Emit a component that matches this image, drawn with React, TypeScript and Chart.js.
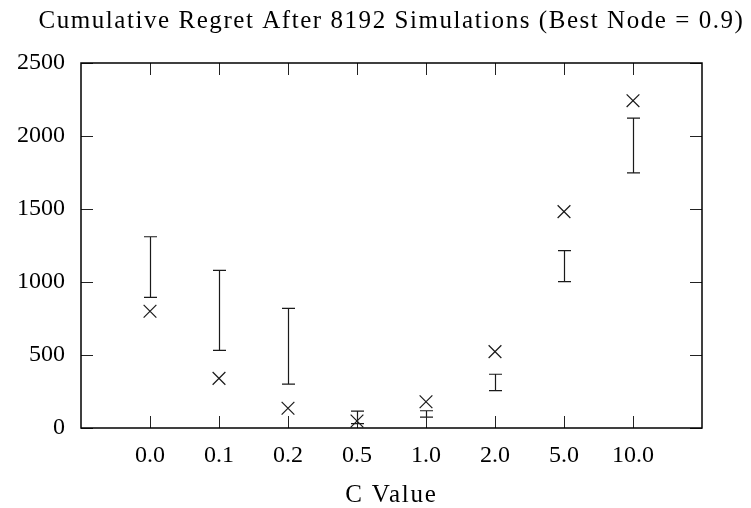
import React, { useEffect, useRef } from "react";
import { Chart, registerables } from "chart.js";

Chart.register(...registerables);

const categories = ["0.0", "0.1", "0.2", "0.5", "1.0", "2.0", "5.0", "10.0"];
const regret = [800, 340, 135, 48, 180, 523, 1482, 2242];
const errLow = [895, 532, 301, 30, 75, 256, 1003, 1747];
const errHigh = [1310, 1080, 820, 115, 118, 368, 1215, 2123];
const yTicks = [0, 500, 1000, 1500, 2000, 2500];

const FONT = "'Liberation Serif', 'DejaVu Serif', serif";

const spacingPlugin = {
  id: "textSpacing",
  afterLayout(chart: any) {
    const tb = chart.titleBlock;
    if (tb && !tb._spaced) {
      const orig = tb.draw.bind(tb);
      tb.draw = (...args: any[]) => {
        const ctx: any = chart.ctx;
        const a = chart.chartArea;
        const center = (a.left + a.right) / 2;
        const half = Math.min(center, chart.width - center);
        const savedL = tb.left;
        const savedR = tb.right;
        tb.left = center - half;
        tb.right = center + half;
        ctx.save();
        ctx.letterSpacing = "1.55px";
        orig(...args);
        ctx.restore();
        tb.left = savedL;
        tb.right = savedR;
      };
      tb._spaced = true;
    }
    const xs = chart.scales.x;
    if (xs && !xs._spaced) {
      const o = xs.drawTitle.bind(xs);
      xs.drawTitle = (...args: any[]) => {
        const ctx: any = chart.ctx;
        ctx.save();
        ctx.letterSpacing = "1.8px";
        o(...args);
        ctx.restore();
      };
      xs._spaced = true;
    }
  },
};

const framePlugin = {
  id: "gnuFrame",
  afterDatasetsDraw(chart: any) {
    const ctx = chart.ctx;
    const xs = chart.scales.x;
    const ys = chart.scales.y;
    ctx.save();
    ctx.strokeStyle = "#1a1a1a";
    ctx.lineWidth = 1.2;
    const cap = 6.5;
    for (let i = 0; i < categories.length; i++) {
      const px = Math.round(xs.getPixelForValue(i)) + 0.5;
      const y1 = ys.getPixelForValue(errLow[i]);
      const y2 = ys.getPixelForValue(errHigh[i]);
      ctx.beginPath();
      ctx.moveTo(px, y1);
      ctx.lineTo(px, y2);
      ctx.moveTo(px - cap, y1);
      ctx.lineTo(px + cap, y1);
      ctx.moveTo(px - cap, y2);
      ctx.lineTo(px + cap, y2);
      ctx.stroke();
    }
    ctx.restore();
  },
  afterDraw(chart: any) {
    const ctx = chart.ctx;
    const a = chart.chartArea;
    const xs = chart.scales.x;
    const ys = chart.scales.y;
    const tl = 12;
    ctx.save();
    ctx.strokeStyle = "#222";
    ctx.lineWidth = 1;
    ctx.beginPath();
    for (let i = 0; i < categories.length; i++) {
      const px = Math.round(xs.getPixelForValue(i)) + 0.5;
      ctx.moveTo(px, a.bottom);
      ctx.lineTo(px, a.bottom - tl);
      ctx.moveTo(px, a.top);
      ctx.lineTo(px, a.top + tl);
    }
    for (const v of yTicks) {
      const py = Math.round(ys.getPixelForValue(v)) + 0.5;
      ctx.moveTo(a.left, py);
      ctx.lineTo(a.left + tl, py);
      ctx.moveTo(a.right, py);
      ctx.lineTo(a.right - tl, py);
    }
    ctx.stroke();
    ctx.strokeStyle = "#000";
    ctx.lineWidth = 1.5;
    ctx.strokeRect(a.left, a.top, a.right - a.left, a.bottom - a.top);
    ctx.restore();
  },
};

export default function App() {
  const ref = useRef<HTMLCanvasElement | null>(null);
  useEffect(() => {
    if (!ref.current) return;
    const chart = new Chart(ref.current, {
      type: "scatter",
      data: {
        datasets: [
          {
            label: "Regret",
            data: regret.map((v, i) => ({ x: i, y: v })),
            pointStyle: "crossRot",
            pointRadius: 9,
            pointHoverRadius: 9,
            borderColor: "#1a1a1a",
            backgroundColor: "#1a1a1a",
            pointBorderWidth: 1.2,
            showLine: false,
          },
        ],
      },
      options: {
        animation: false,
        responsive: true,
        maintainAspectRatio: false,
        layout: { padding: { left: 0, right: 49, top: 0, bottom: 0 } },
        plugins: {
          legend: { display: false },
          tooltip: { enabled: false },
          title: {
            display: true,
            fullSize: false,
            text: "Cumulative Regret After 8192 Simulations (Best Node = 0.9)",
            color: "#000",
            font: { family: FONT, size: 25, weight: "normal" },
            padding: { top: 6, bottom: 27 },
          },
        },
        scales: {
          x: {
            type: "linear",
            min: -1,
            max: 8,
            afterBuildTicks: (scale: any) => {
              scale.ticks = categories.map((_, i) => ({ value: i }));
            },
            afterFit: (scale: any) => {
              scale.height = 80;
            },
            grid: { display: false, drawTicks: false },
            border: { display: false },
            ticks: {
              color: "#000",
              padding: 13,
              maxRotation: 0,
              font: { family: FONT, size: 24 },
              callback: (v: any) => categories[v] ?? "",
            },
            title: {
              display: true,
              text: "C Value",
              color: "#000",
              font: { family: FONT, size: 25 },
              padding: { top: 0, bottom: -2 },
            },
          },
          y: {
            min: 0,
            max: 2500,
            afterBuildTicks: (scale: any) => {
              scale.ticks = yTicks.map((v) => ({ value: v }));
            },
            afterFit: (scale: any) => {
              scale.width = 81;
            },
            grid: { display: false, drawTicks: false },
            border: { display: false },
            ticks: {
              color: "#000",
              padding: 16,
              font: { family: FONT, size: 24 },
              callback: (v: any) => String(v),
            },
          },
        },
      },
      plugins: [spacingPlugin, framePlugin],
    } as any);
    return () => chart.destroy();
  }, []);
  return (
    <div style={{ position: "absolute", left: 0, top: 0, width: 751, height: 508, background: "#fff" }}>
      <canvas ref={ref} />
    </div>
  );
}
